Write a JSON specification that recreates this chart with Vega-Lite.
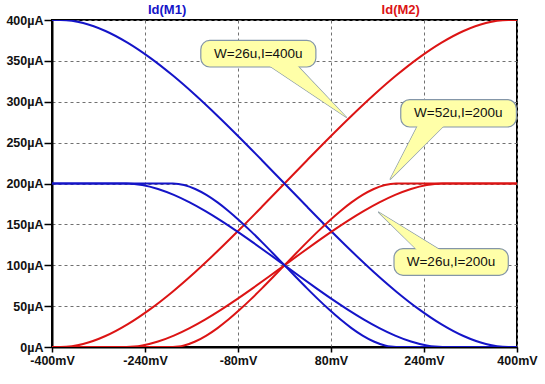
{
  "$schema": "https://vega.github.io/schema/vega-lite/v6.json",
  "width": 465,
  "height": 327,
  "autosize": {"type": "none"},
  "padding": {"left": 52, "top": 20, "right": 28, "bottom": 37},
  "background": "white",
  "config": {
    "view": {"stroke": "black", "strokeWidth": 2},
    "axis": {
      "labelFont": "Liberation Sans",
      "labelFontWeight": "bold",
      "labelFontSize": 12.5,
      "labelColor": "#111111",
      "domainColor": "black",
      "domainWidth": 2,
      "tickColor": "black",
      "tickWidth": 1.5,
      "gridColor": "#707070",
      "gridDash": [3, 3],
      "gridWidth": 1,
      "title": null
    }
  },
  "datasets": {
    "curves": [
      {"d":"M2","c":"A","v":-400,"i":0},{"d":"M2","c":"A","v":-385,"i":0},{"d":"M2","c":"A","v":-365.75,"i":0.95},{"d":"M2","c":"A","v":-346.5,"i":3.64},{"d":"M2","c":"A","v":-308,"i":13.41},{"d":"M2","c":"A","v":-269.5,"i":27.97},{"d":"M2","c":"A","v":-231,"i":46.33},{"d":"M2","c":"A","v":-192.5,"i":67.71},{"d":"M2","c":"A","v":-154,"i":91.48},{"d":"M2","c":"A","v":-115.5,"i":117.08},{"d":"M2","c":"A","v":-77,"i":144},{"d":"M2","c":"A","v":-38.5,"i":171.79},{"d":"M2","c":"A","v":0,"i":200},{"d":"M2","c":"A","v":38.5,"i":228.21},{"d":"M2","c":"A","v":77,"i":256},{"d":"M2","c":"A","v":115.5,"i":282.92},{"d":"M2","c":"A","v":154,"i":308.52},{"d":"M2","c":"A","v":192.5,"i":332.29},{"d":"M2","c":"A","v":231,"i":353.67},{"d":"M2","c":"A","v":269.5,"i":372.03},{"d":"M2","c":"A","v":308,"i":386.59},{"d":"M2","c":"A","v":346.5,"i":396.36},{"d":"M2","c":"A","v":365.75,"i":399.05},{"d":"M2","c":"A","v":385,"i":400},{"d":"M2","c":"A","v":400,"i":400},
      {"d":"M1","c":"A","v":-400,"i":400},{"d":"M1","c":"A","v":-385,"i":400},{"d":"M1","c":"A","v":-365.75,"i":399.05},{"d":"M1","c":"A","v":-346.5,"i":396.36},{"d":"M1","c":"A","v":-308,"i":386.59},{"d":"M1","c":"A","v":-269.5,"i":372.03},{"d":"M1","c":"A","v":-231,"i":353.67},{"d":"M1","c":"A","v":-192.5,"i":332.29},{"d":"M1","c":"A","v":-154,"i":308.52},{"d":"M1","c":"A","v":-115.5,"i":282.92},{"d":"M1","c":"A","v":-77,"i":256},{"d":"M1","c":"A","v":-38.5,"i":228.21},{"d":"M1","c":"A","v":0,"i":200},{"d":"M1","c":"A","v":38.5,"i":171.79},{"d":"M1","c":"A","v":77,"i":144},{"d":"M1","c":"A","v":115.5,"i":117.08},{"d":"M1","c":"A","v":154,"i":91.48},{"d":"M1","c":"A","v":192.5,"i":67.71},{"d":"M1","c":"A","v":231,"i":46.33},{"d":"M1","c":"A","v":269.5,"i":27.97},{"d":"M1","c":"A","v":308,"i":13.41},{"d":"M1","c":"A","v":346.5,"i":3.64},{"d":"M1","c":"A","v":365.75,"i":0.95},{"d":"M1","c":"A","v":385,"i":0},{"d":"M1","c":"A","v":400,"i":0},
      {"d":"M2","c":"B","v":-400,"i":0},{"d":"M2","c":"B","v":-272,"i":0},{"d":"M2","c":"B","v":-258.4,"i":0.48},{"d":"M2","c":"B","v":-244.8,"i":1.82},{"d":"M2","c":"B","v":-217.6,"i":6.71},{"d":"M2","c":"B","v":-190.4,"i":13.98},{"d":"M2","c":"B","v":-163.2,"i":23.16},{"d":"M2","c":"B","v":-136,"i":33.86},{"d":"M2","c":"B","v":-108.8,"i":45.74},{"d":"M2","c":"B","v":-81.6,"i":58.54},{"d":"M2","c":"B","v":-54.4,"i":72},{"d":"M2","c":"B","v":-27.2,"i":85.89},{"d":"M2","c":"B","v":0,"i":100},{"d":"M2","c":"B","v":27.2,"i":114.11},{"d":"M2","c":"B","v":54.4,"i":128},{"d":"M2","c":"B","v":81.6,"i":141.46},{"d":"M2","c":"B","v":108.8,"i":154.26},{"d":"M2","c":"B","v":136,"i":166.14},{"d":"M2","c":"B","v":163.2,"i":176.84},{"d":"M2","c":"B","v":190.4,"i":186.02},{"d":"M2","c":"B","v":217.6,"i":193.29},{"d":"M2","c":"B","v":244.8,"i":198.18},{"d":"M2","c":"B","v":258.4,"i":199.52},{"d":"M2","c":"B","v":272,"i":200},{"d":"M2","c":"B","v":400,"i":200},
      {"d":"M1","c":"B","v":-400,"i":200},{"d":"M1","c":"B","v":-272,"i":200},{"d":"M1","c":"B","v":-258.4,"i":199.52},{"d":"M1","c":"B","v":-244.8,"i":198.18},{"d":"M1","c":"B","v":-217.6,"i":193.29},{"d":"M1","c":"B","v":-190.4,"i":186.02},{"d":"M1","c":"B","v":-163.2,"i":176.84},{"d":"M1","c":"B","v":-136,"i":166.14},{"d":"M1","c":"B","v":-108.8,"i":154.26},{"d":"M1","c":"B","v":-81.6,"i":141.46},{"d":"M1","c":"B","v":-54.4,"i":128},{"d":"M1","c":"B","v":-27.2,"i":114.11},{"d":"M1","c":"B","v":0,"i":100},{"d":"M1","c":"B","v":27.2,"i":85.89},{"d":"M1","c":"B","v":54.4,"i":72},{"d":"M1","c":"B","v":81.6,"i":58.54},{"d":"M1","c":"B","v":108.8,"i":45.74},{"d":"M1","c":"B","v":136,"i":33.86},{"d":"M1","c":"B","v":163.2,"i":23.16},{"d":"M1","c":"B","v":190.4,"i":13.98},{"d":"M1","c":"B","v":217.6,"i":6.71},{"d":"M1","c":"B","v":244.8,"i":1.82},{"d":"M1","c":"B","v":258.4,"i":0.48},{"d":"M1","c":"B","v":272,"i":0},{"d":"M1","c":"B","v":400,"i":0},
      {"d":"M2","c":"C","v":-400,"i":0},{"d":"M2","c":"C","v":-192,"i":0},{"d":"M2","c":"C","v":-182.4,"i":0.48},{"d":"M2","c":"C","v":-172.8,"i":1.82},{"d":"M2","c":"C","v":-153.6,"i":6.71},{"d":"M2","c":"C","v":-134.4,"i":13.98},{"d":"M2","c":"C","v":-115.2,"i":23.16},{"d":"M2","c":"C","v":-96,"i":33.86},{"d":"M2","c":"C","v":-76.8,"i":45.74},{"d":"M2","c":"C","v":-57.6,"i":58.54},{"d":"M2","c":"C","v":-38.4,"i":72},{"d":"M2","c":"C","v":-19.2,"i":85.89},{"d":"M2","c":"C","v":0,"i":100},{"d":"M2","c":"C","v":19.2,"i":114.11},{"d":"M2","c":"C","v":38.4,"i":128},{"d":"M2","c":"C","v":57.6,"i":141.46},{"d":"M2","c":"C","v":76.8,"i":154.26},{"d":"M2","c":"C","v":96,"i":166.14},{"d":"M2","c":"C","v":115.2,"i":176.84},{"d":"M2","c":"C","v":134.4,"i":186.02},{"d":"M2","c":"C","v":153.6,"i":193.29},{"d":"M2","c":"C","v":172.8,"i":198.18},{"d":"M2","c":"C","v":182.4,"i":199.52},{"d":"M2","c":"C","v":192,"i":200},{"d":"M2","c":"C","v":400,"i":200},
      {"d":"M1","c":"C","v":-400,"i":200},{"d":"M1","c":"C","v":-192,"i":200},{"d":"M1","c":"C","v":-182.4,"i":199.52},{"d":"M1","c":"C","v":-172.8,"i":198.18},{"d":"M1","c":"C","v":-153.6,"i":193.29},{"d":"M1","c":"C","v":-134.4,"i":186.02},{"d":"M1","c":"C","v":-115.2,"i":176.84},{"d":"M1","c":"C","v":-96,"i":166.14},{"d":"M1","c":"C","v":-76.8,"i":154.26},{"d":"M1","c":"C","v":-57.6,"i":141.46},{"d":"M1","c":"C","v":-38.4,"i":128},{"d":"M1","c":"C","v":-19.2,"i":114.11},{"d":"M1","c":"C","v":0,"i":100},{"d":"M1","c":"C","v":19.2,"i":85.89},{"d":"M1","c":"C","v":38.4,"i":72},{"d":"M1","c":"C","v":57.6,"i":58.54},{"d":"M1","c":"C","v":76.8,"i":45.74},{"d":"M1","c":"C","v":96,"i":33.86},{"d":"M1","c":"C","v":115.2,"i":23.16},{"d":"M1","c":"C","v":134.4,"i":13.98},{"d":"M1","c":"C","v":153.6,"i":6.71},{"d":"M1","c":"C","v":172.8,"i":1.82},{"d":"M1","c":"C","v":182.4,"i":0.48},{"d":"M1","c":"C","v":192,"i":0},{"d":"M1","c":"C","v":400,"i":0}
    ],
    "heads": [
      {"d":"M1","label":"Id(M1)","v":-202,"i":412},
      {"d":"M2","label":"Id(M2)","v":200,"i":412}
    ],
    "pointers": [
      {"b":1,"k":0,"v":-28,"i":345},{"b":1,"k":1,"v":107,"i":280.6},{"b":1,"k":2,"v":21,"i":345},
      {"b":2,"k":0,"v":230,"i":272},{"b":2,"k":1,"v":181.5,"i":204.8},{"b":2,"k":2,"v":276,"i":272},
      {"b":3,"k":0,"v":229.7,"i":117.5},{"b":3,"k":1,"v":161.4,"i":165.1},{"b":3,"k":2,"v":270.5,"i":117.5}
    ],
    "bubbles": [
      {"b":1,"label":"W=26u,I=400u","v1":-144,"v2":54,"i1":375,"i2":342.5,"tv":-45,"ti":359},
      {"b":2,"label":"W=52u,I=200u","v1":200,"v2":399,"i1":302.6,"i2":269.1,"tv":299,"ti":286},
      {"b":3,"label":"W=26u,I=200u","v1":188.4,"v2":385,"i1":120.4,"i2":87.7,"tv":286.5,"ti":104}
    ]
  },
  "layer": [
    {
      "data": {"name": "curves"},
      "mark": {"type": "line", "strokeWidth": 2, "interpolate": "monotone", "clip": true},
      "encoding": {
        "x": {"field": "v", "type": "quantitative",
          "scale": {"domain": [-400, 400], "nice": false, "zero": false},
          "axis": {"values": [-400, -240, -80, 80, 240, 400], "labelExpr": "datum.value + 'mV'", "tickSize": 5, "labelPadding": 2, "labelFlush": false}},
        "y": {"field": "i", "type": "quantitative",
          "scale": {"domain": [0, 400], "nice": false},
          "axis": {"values": [0, 50, 100, 150, 200, 250, 300, 350, 400], "labelExpr": "datum.value + 'µA'", "tickSize": 8, "labelPadding": 1}},
        "color": {"field": "d", "type": "nominal", "scale": {"domain": ["M1", "M2"], "range": ["#1414c8", "#dc1414"]}, "legend": null},
        "detail": {"field": "c"},
        "order": {"field": "v", "type": "quantitative"}
      }
    },
    {
      "data": {"name": "heads"},
      "mark": {"type": "text", "font": "Liberation Sans", "fontWeight": "bold", "fontSize": 13, "baseline": "middle", "align": "center"},
      "encoding": {
        "x": {"field": "v", "type": "quantitative"},
        "y": {"field": "i", "type": "quantitative"},
        "text": {"field": "label"},
        "color": {"field": "d", "type": "nominal", "legend": null}
      }
    },
    {
      "data": {"name": "pointers"},
      "mark": {"type": "line", "interpolate": "linear-closed", "fill": "#ffffa8", "stroke": "#8496a8", "strokeWidth": 1.2},
      "encoding": {
        "x": {"field": "v", "type": "quantitative"},
        "y": {"field": "i", "type": "quantitative"},
        "detail": {"field": "b"},
        "order": {"field": "k", "type": "quantitative"}
      }
    },
    {
      "data": {"name": "bubbles"},
      "mark": {"type": "rect", "fill": "#ffffa8", "stroke": "#8496a8", "strokeWidth": 1.2, "cornerRadius": 9},
      "encoding": {
        "x": {"field": "v1", "type": "quantitative"},
        "x2": {"field": "v2"},
        "y": {"field": "i1", "type": "quantitative"},
        "y2": {"field": "i2"}
      }
    },
    {
      "data": {"name": "pointers"},
      "mark": {"type": "line", "interpolate": "linear-closed", "fill": "#ffffa8", "strokeWidth": 0, "strokeOpacity": 0},
      "encoding": {
        "x": {"field": "v", "type": "quantitative"},
        "y": {"field": "i", "type": "quantitative"},
        "detail": {"field": "b"},
        "order": {"field": "k", "type": "quantitative"}
      }
    },
    {
      "data": {"name": "bubbles"},
      "mark": {"type": "text", "font": "Liberation Sans", "fontSize": 13.5, "color": "#111111", "baseline": "middle", "align": "center"},
      "encoding": {
        "x": {"field": "tv", "type": "quantitative"},
        "y": {"field": "ti", "type": "quantitative"},
        "text": {"field": "label"}
      }
    }
  ]
}
